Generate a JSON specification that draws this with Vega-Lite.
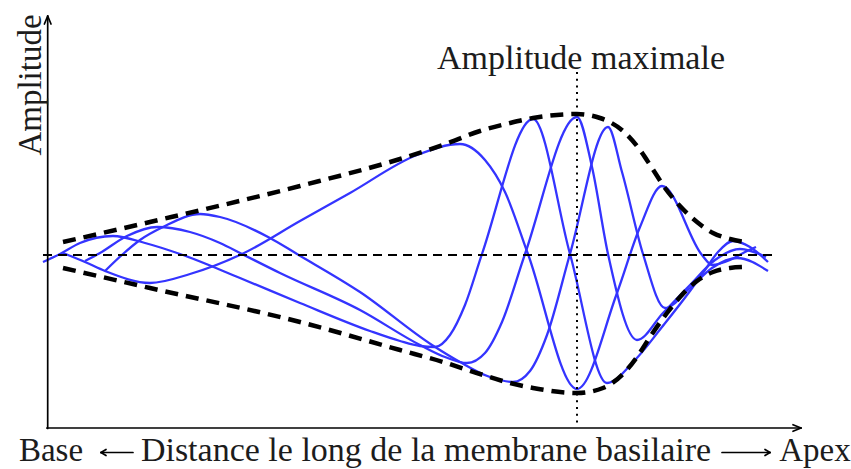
{
  "$schema": "https://vega.github.io/schema/vega-lite/v6.json",
  "width": 851,
  "height": 469,
  "autosize": {"type": "fit", "contains": "padding"},
  "padding": 0,
  "background": "white",
  "config": {"view": {"stroke": null}},
  "datasets": {
    "ondes": [
      {"onde": "t1", "d": -4, "a": -7}, {"onde": "t1", "d": 13, "a": 1}, {"onde": "t1", "d": 33, "a": 12}, {"onde": "t1", "d": 66, "a": 19},
      {"onde": "t1", "d": 98, "a": 12}, {"onde": "t1", "d": 133, "a": 1}, {"onde": "t1", "d": 193, "a": -23}, {"onde": "t1", "d": 253, "a": -48},
      {"onde": "t1", "d": 323, "a": -76}, {"onde": "t1", "d": 353, "a": -86}, {"onde": "t1", "d": 373, "a": -91}, {"onde": "t1", "d": 388, "a": -92},
      {"onde": "t1", "d": 403, "a": -80}, {"onde": "t1", "d": 418, "a": -50},
      {"onde": "t1", "d": 435, "a": 1}, {"onde": "t1", "d": 486, "a": 136}, {"onde": "t1", "d": 523, "a": 1}, {"onde": "t1", "d": 560, "a": -128},
      {"onde": "t1", "d": 588, "a": -105}, {"onde": "t1", "d": 615, "a": -72}, {"onde": "t1", "d": 643, "a": -36}, {"onde": "t1", "d": 658, "a": -15},
      {"onde": "t1", "d": 671, "a": 3}, {"onde": "t1", "d": 686, "a": 14}, {"onde": "t1", "d": 703, "a": 8}, {"onde": "t1", "d": 721, "a": -7},

      {"onde": "t2", "d": 16, "a": 2}, {"onde": "t2", "d": 38, "a": -7}, {"onde": "t2", "d": 58, "a": -16}, {"onde": "t2", "d": 103, "a": -28},
      {"onde": "t2", "d": 143, "a": -19}, {"onde": "t2", "d": 195, "a": 1}, {"onde": "t2", "d": 253, "a": 34}, {"onde": "t2", "d": 303, "a": 62},
      {"onde": "t2", "d": 370, "a": 100}, {"onde": "t2", "d": 413, "a": 111}, {"onde": "t2", "d": 438, "a": 95}, {"onde": "t2", "d": 458, "a": 63},
      {"onde": "t2", "d": 481, "a": 1}, {"onde": "t2", "d": 530, "a": -134}, {"onde": "t2", "d": 570, "a": -38}, {"onde": "t2", "d": 593, "a": 28},
      {"onde": "t2", "d": 615, "a": 69}, {"onde": "t2", "d": 655, "a": 0}, {"onde": "t2", "d": 665, "a": -10}, {"onde": "t2", "d": 683, "a": -5},
      {"onde": "t2", "d": 698, "a": 3}, {"onde": "t2", "d": 709, "a": 8},

      {"onde": "t3", "d": 38, "a": -6}, {"onde": "t3", "d": 53, "a": 2}, {"onde": "t3", "d": 80, "a": 19}, {"onde": "t3", "d": 110, "a": 28},
      {"onde": "t3", "d": 143, "a": 23}, {"onde": "t3", "d": 173, "a": 12}, {"onde": "t3", "d": 195, "a": 1}, {"onde": "t3", "d": 233, "a": -18},
      {"onde": "t3", "d": 313, "a": -55}, {"onde": "t3", "d": 373, "a": -90}, {"onde": "t3", "d": 398, "a": -102}, {"onde": "t3", "d": 420, "a": -108},
      {"onde": "t3", "d": 438, "a": -98}, {"onde": "t3", "d": 455, "a": -67},
      {"onde": "t3", "d": 478, "a": 1}, {"onde": "t3", "d": 530, "a": 138}, {"onde": "t3", "d": 545, "a": 88}, {"onde": "t3", "d": 561, "a": 1},
      {"onde": "t3", "d": 590, "a": -85}, {"onde": "t3", "d": 616, "a": -58}, {"onde": "t3", "d": 643, "a": -30}, {"onde": "t3", "d": 668, "a": -5},
      {"onde": "t3", "d": 693, "a": 6}, {"onde": "t3", "d": 719, "a": -2},

      {"onde": "t4", "d": 58, "a": -16}, {"onde": "t4", "d": 76, "a": 1}, {"onde": "t4", "d": 93, "a": 15}, {"onde": "t4", "d": 116, "a": 28},
      {"onde": "t4", "d": 153, "a": 41}, {"onde": "t4", "d": 173, "a": 38}, {"onde": "t4", "d": 223, "a": 17}, {"onde": "t4", "d": 250, "a": 1},
      {"onde": "t4", "d": 313, "a": -37}, {"onde": "t4", "d": 385, "a": -90}, {"onde": "t4", "d": 413, "a": -107}, {"onde": "t4", "d": 443, "a": -122},
      {"onde": "t4", "d": 466, "a": -127}, {"onde": "t4", "d": 483, "a": -116}, {"onde": "t4", "d": 500, "a": -80},
      {"onde": "t4", "d": 523, "a": 1}, {"onde": "t4", "d": 561, "a": 128}, {"onde": "t4", "d": 575, "a": 83}, {"onde": "t4", "d": 596, "a": 1},
      {"onde": "t4", "d": 618, "a": -53}, {"onde": "t4", "d": 643, "a": -33}, {"onde": "t4", "d": 665, "a": -13}, {"onde": "t4", "d": 690, "a": -3},
      {"onde": "t4", "d": 721, "a": -16}
    ],
    "enveloppe": [
      {"bord": "haut", "d": 16, "a": 13}, {"bord": "haut", "d": 103, "a": 33}, {"bord": "haut", "d": 253, "a": 69}, {"bord": "haut", "d": 353, "a": 96},
      {"bord": "haut", "d": 396, "a": 110}, {"bord": "haut", "d": 433, "a": 124}, {"bord": "haut", "d": 463, "a": 132}, {"bord": "haut", "d": 486, "a": 137},
      {"bord": "haut", "d": 530, "a": 141}, {"bord": "haut", "d": 553, "a": 137}, {"bord": "haut", "d": 576, "a": 124}, {"bord": "haut", "d": 593, "a": 105},
      {"bord": "haut", "d": 605, "a": 87}, {"bord": "haut", "d": 618, "a": 67}, {"bord": "haut", "d": 633, "a": 49}, {"bord": "haut", "d": 650, "a": 33},
      {"bord": "haut", "d": 666, "a": 22}, {"bord": "haut", "d": 683, "a": 16}, {"bord": "haut", "d": 698, "a": 13},
      {"bord": "bas", "d": 16, "a": -13}, {"bord": "bas", "d": 103, "a": -33}, {"bord": "bas", "d": 253, "a": -67}, {"bord": "bas", "d": 353, "a": -95},
      {"bord": "bas", "d": 396, "a": -107}, {"bord": "bas", "d": 433, "a": -119}, {"bord": "bas", "d": 463, "a": -128}, {"bord": "bas", "d": 486, "a": -133},
      {"bord": "bas", "d": 530, "a": -138}, {"bord": "bas", "d": 556, "a": -133}, {"bord": "bas", "d": 576, "a": -119}, {"bord": "bas", "d": 590, "a": -102},
      {"bord": "bas", "d": 605, "a": -79}, {"bord": "bas", "d": 620, "a": -58}, {"bord": "bas", "d": 633, "a": -42}, {"bord": "bas", "d": 650, "a": -26},
      {"bord": "bas", "d": 666, "a": -17}, {"bord": "bas", "d": 683, "a": -13}, {"bord": "bas", "d": 698, "a": -12}
    ],
    "axes": [
      {"d": 0.7, "a": -173.5, "d2": 0.7, "a2": 239},
      {"d": 0.7, "a": 239, "d2": -2.6, "a2": 231},
      {"d": 0.7, "a": 239, "d2": 4.0, "a2": 231},
      {"d": -0.2, "a": -173, "d2": 754, "a2": -173},
      {"d": 754, "a": -173, "d2": 746, "a2": -169.7},
      {"d": 754, "a": -173, "d2": 746, "a2": -176.3},
      {"d": 54, "a": -197.5, "d2": 86, "a2": -197.5},
      {"d": 54, "a": -197.5, "d2": 59, "a2": -194.5},
      {"d": 54, "a": -197.5, "d2": 59, "a2": -200.5},
      {"d": 675, "a": -197.5, "d2": 723, "a2": -197.5},
      {"d": 723, "a": -197.5, "d2": 718, "a2": -194.5},
      {"d": 723, "a": -197.5, "d2": 718, "a2": -200.5}
    ],
    "textes": [
      {"d": 4, "a": -206, "angle": 0, "taille": 33, "texte": "Base"},
      {"d": 379, "a": -206, "angle": 0, "taille": 34, "texte": "Distance le long de la membrane basilaire"},
      {"d": 768, "a": -206, "angle": 0, "taille": 33, "texte": "Apex"},
      {"d": 534, "a": 186, "angle": 0, "taille": 34, "texte": "Amplitude maximale"},
      {"d": -6, "a": 170, "angle": 270, "taille": 33, "texte": "Amplitude"}
    ]
  },
  "layer": [
    {
      "data": {"name": "ondes"},
      "mark": {"type": "line", "interpolate": "monotone", "stroke": "#3434ff", "strokeWidth": 2.3, "clip": false},
      "encoding": {
        "x": {"field": "d", "type": "quantitative", "scale": {"domain": [-47, 804], "nice": false, "zero": false}, "axis": null},
        "y": {"field": "a", "type": "quantitative", "scale": {"domain": [-214, 255], "nice": false, "zero": false}, "axis": null},
        "detail": {"field": "onde"}
      }
    },
    {
      "data": {"name": "enveloppe"},
      "mark": {"type": "line", "interpolate": "monotone", "stroke": "black", "strokeWidth": 4.5, "strokeDash": [13, 8]},
      "encoding": {
        "x": {"field": "d", "type": "quantitative", "scale": {"domain": [-47, 804], "nice": false, "zero": false}, "axis": null},
        "y": {"field": "a", "type": "quantitative", "scale": {"domain": [-214, 255], "nice": false, "zero": false}, "axis": null},
        "detail": {"field": "bord"}
      }
    },
    {
      "data": {"values": [{"d": -4, "d2": 728, "a": 0}]},
      "mark": {"type": "rule", "stroke": "black", "strokeWidth": 2, "strokeDash": [9, 6]},
      "encoding": {
        "x": {"field": "d", "type": "quantitative", "scale": {"domain": [-47, 804], "nice": false, "zero": false}, "axis": null},
        "x2": {"field": "d2"},
        "y": {"field": "a", "type": "quantitative", "scale": {"domain": [-214, 255], "nice": false, "zero": false}, "axis": null}
      }
    },
    {
      "data": {"values": [{"d": 530, "a": 183, "a2": -172}]},
      "mark": {"type": "rule", "stroke": "black", "strokeWidth": 2, "strokeDash": [2, 4.7]},
      "encoding": {
        "x": {"field": "d", "type": "quantitative", "scale": {"domain": [-47, 804], "nice": false, "zero": false}, "axis": null},
        "y": {"field": "a", "type": "quantitative", "scale": {"domain": [-214, 255], "nice": false, "zero": false}, "axis": null},
        "y2": {"field": "a2"}
      }
    },
    {
      "data": {"name": "axes"},
      "mark": {"type": "rule", "stroke": "black", "strokeWidth": 1.7, "strokeCap": "round"},
      "encoding": {
        "x": {"field": "d", "type": "quantitative", "scale": {"domain": [-47, 804], "nice": false, "zero": false}, "axis": null},
        "y": {"field": "a", "type": "quantitative", "scale": {"domain": [-214, 255], "nice": false, "zero": false}, "axis": null},
        "x2": {"field": "d2"},
        "y2": {"field": "a2"}
      }
    },
    {
      "data": {"name": "textes"},
      "mark": {"type": "text", "font": "Liberation Serif", "align": "center", "baseline": "alphabetic", "color": "#1c1c1c"},
      "encoding": {
        "x": {"field": "d", "type": "quantitative", "scale": {"domain": [-47, 804], "nice": false, "zero": false}, "axis": null},
        "y": {"field": "a", "type": "quantitative", "scale": {"domain": [-214, 255], "nice": false, "zero": false}, "axis": null},
        "text": {"field": "texte"},
        "size": {"field": "taille", "type": "quantitative", "scale": null},
        "angle": {"field": "angle", "type": "quantitative", "scale": null}
      }
    }
  ]
}
